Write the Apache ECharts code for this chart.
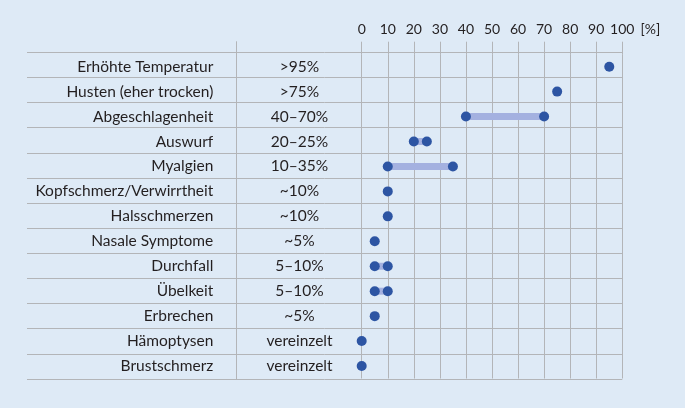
<!DOCTYPE html>
<html>
<head>
<meta charset="utf-8">
<script src="https://cdn.jsdelivr.net/npm/echarts@6/dist/echarts.min.js"></script>
<style>
html,body{margin:0;padding:0;background:#deeaf6;}
#c{width:685px;height:408px;}
</style>
</head>
<body>
<div id="c"></div>
<script>
var categories = ["Erhöhte Temperatur","Husten (eher trocken)","Abgeschlagenheit","Auswurf","Myalgien","Kopfschmerz/Verwirrtheit","Halsschmerzen","Nasale Symptome","Durchfall","Übelkeit","Erbrechen","Hämoptysen","Brustschmerz"];
var rangeLabels = [">95%",">75%","40–70%","20–25%","10–35%","~10%","~10%","~5%","5–10%","5–10%","~5%","vereinzelt","vereinzelt"];
var lowValues  = [95,75,40,20,10,10,10,5,5,5,5,0,0];
var highValues = [95,75,70,25,35,10,10,5,10,10,5,0,0];
var tickValues = [0,10,20,30,40,50,60,70,80,90,100];

var FONT = "Lato";
var TEXT = "#231f20";
var GRID = "#b3b5b8";
var DOT = "#2d55a3";
var BAR = "#a4b1e0";

var chart = echarts.init(document.getElementById('c'), null, {renderer:'canvas'});
var spans = highValues.map(function(h,i){return h - lowValues[i];});
var dots = [];
categories.forEach(function(c,i){
  dots.push([lowValues[i], c]);
  if (highValues[i] !== lowValues[i]) dots.push([highValues[i], c]);
});

chart.setOption({
  backgroundColor: "#deeaf6",
  animation: false,
  textStyle: {fontFamily: FONT},
  grid: [
    {left: 27, right: 62.7, top: 52.3, bottom: 29},
    {left: 236.7, width: 125, top: 41.7, bottom: 29},
    {left: 361.7, right: 62.7, top: 54.2, bottom: 29.5}
  ],
  xAxis: [
    {gridIndex: 0, type: 'value', show: false},
    {gridIndex: 1, type: 'value', show: false},
    {gridIndex: 2, type: 'value', position: 'top', min: tickValues[0], max: tickValues[tickValues.length-1], interval: 10,
     axisLine: {show: false},
     axisTick: {show: true, length: 12.5, lineStyle: {color: GRID, width: 1}},
     axisLabel: {margin: 17.5, color: TEXT, fontFamily: FONT, fontSize: 14},
     splitLine: {show: true, lineStyle: {color: GRID, width: 1}},
     name: "[%]", nameLocation: 'end', nameGap: 17,
     nameTextStyle: {color: TEXT, fontFamily: FONT, fontSize: 14, verticalAlign: 'bottom', lineHeight: 50}
    }
  ],
  yAxis: [
    {gridIndex: 0, type: 'category', inverse: true, data: categories,
     axisLine: {show: false}, axisTick: {show: false}, axisLabel: {show: false},
     splitLine: {show: true, lineStyle: {color: GRID, width: 1}}},
    {gridIndex: 1, type: 'value', position: 'left',
     axisLine: {show: true, lineStyle: {color: GRID, width: 1}}, axisTick: {show: false},
     axisLabel: {show: false}, splitLine: {show: false}},
    {gridIndex: 2, type: 'category', inverse: true, data: categories, position: 'left',
     axisLine: {show: false}, axisTick: {show: false}, splitLine: {show: false},
     axisLabel: {margin: 148.4, color: TEXT, fontFamily: FONT, fontSize: 15.5}},
    {gridIndex: 2, type: 'category', inverse: true, data: rangeLabels, position: 'left',
     axisLine: {show: false}, axisTick: {show: false}, splitLine: {show: false},
     axisLabel: {margin: 62.2, align: 'center', color: TEXT, fontFamily: FONT, fontSize: 15.5}}
  ],
  series: [
    {type: 'bar', xAxisIndex: 2, yAxisIndex: 2, stack: 'r', data: lowValues, barWidth: 7,
     itemStyle: {color: 'rgba(0,0,0,0)'}, silent: true},
    {type: 'bar', xAxisIndex: 2, yAxisIndex: 2, stack: 'r', data: spans, barWidth: 7,
     itemStyle: {color: BAR}},
    {type: 'scatter', xAxisIndex: 2, yAxisIndex: 2, data: dots, symbolSize: 10,
     itemStyle: {color: DOT, opacity: 1}, z: 5}
  ]
});
</script>
</body>
</html>
